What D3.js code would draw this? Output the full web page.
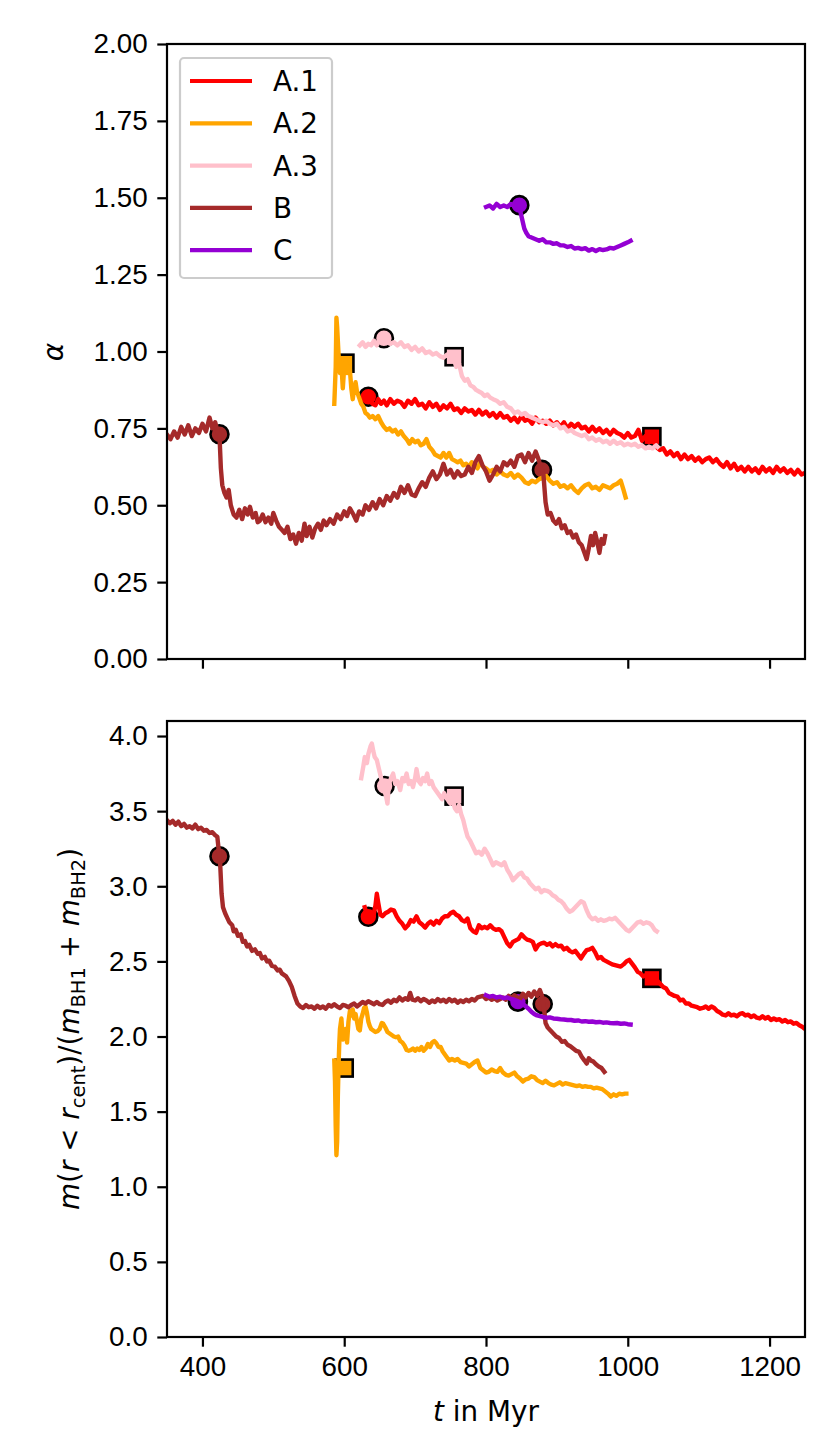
<!DOCTYPE html>
<html>
<head>
<meta charset="utf-8">
<script src="https://cdn.jsdelivr.net/npm/d3@7"></script>
<style>
  body { margin: 0; background: #fff; }
  svg { display: block; font-family: "DejaVu Sans", sans-serif; }
  .tick text { font-size: 27.8px; fill: #000; }
  .tick line { stroke: #000; stroke-width: 2.2; }
  .domain { display: none; }
</style>
</head>
<body>
<svg id="chart" width="830" height="1453"></svg>
<script>
// series names and colours
var names = ['A.1', 'A.2', 'A.3', 'B', 'C']
var colors = ['#ff0000', '#ffa500', '#ffc0cb', '#a52a2a', '#9400d3']

var xTicks = [400, 600, 800, 1000, 1200]
var alphaTicks = [0, 0.25, 0.5, 0.75, 1, 1.25, 1.5, 1.75, 2]
var massTicks = [0, 0.5, 1, 1.5, 2, 2.5, 3, 3.5, 4]

// top panel: alpha vs t [Myr]
var alphaA1 = [[632,0.855],[636,0.84],[640,0.83],[644,0.825],[648,0.845],[652,0.83],[656,0.84],[660,0.825],[665,0.845],[670,0.83],[675,0.84],[680,0.835],[685,0.82],[690,0.84],[695,0.83],[700,0.845],[705,0.825],[710,0.83],[715,0.815],[720,0.835],[725,0.82],[730,0.83],[735,0.81],[740,0.825],[745,0.815],[750,0.83],[755,0.81],[760,0.815],[765,0.8],[770,0.815],[775,0.805],[780,0.81],[785,0.795],[790,0.81],[795,0.795],[800,0.805],[805,0.79],[810,0.8],[815,0.785],[820,0.8],[825,0.785],[830,0.79],[835,0.775],[840,0.785],[845,0.77],[850,0.79],[855,0.775],[860,0.78],[865,0.765],[870,0.785],[875,0.77],[880,0.775],[885,0.765],[890,0.775],[895,0.76],[900,0.77],[905,0.755],[910,0.77],[915,0.75],[920,0.765],[925,0.755],[930,0.765],[935,0.75],[940,0.755],[945,0.74],[950,0.755],[955,0.74],[960,0.75],[965,0.735],[970,0.745],[975,0.73],[980,0.745],[985,0.735],[990,0.73],[995,0.72],[1000,0.735],[1005,0.72],[1010,0.725],[1015,0.745],[1020,0.71],[1025,0.725],[1030,0.705],[1035,0.72],[1040,0.69],[1045,0.68],[1050,0.685],[1055,0.665],[1060,0.675],[1065,0.66],[1070,0.67],[1075,0.65],[1080,0.665],[1085,0.65],[1090,0.66],[1095,0.645],[1100,0.655],[1105,0.64],[1110,0.65],[1115,0.655],[1120,0.64],[1125,0.65],[1130,0.635],[1135,0.625],[1140,0.64],[1145,0.62],[1150,0.635],[1155,0.615],[1160,0.625],[1165,0.61],[1170,0.625],[1175,0.61],[1180,0.62],[1185,0.605],[1190,0.625],[1195,0.61],[1200,0.62],[1205,0.605],[1210,0.625],[1215,0.61],[1220,0.62],[1225,0.605],[1230,0.615],[1235,0.6],[1240,0.615],[1245,0.6],[1250,0.605]]
var alphaA2 = [[586,0.83],[588,0.95],[589,1.11],[590,1.08],[592,0.99],[594,0.93],[596,0.96],[598,0.88],[600,0.95],[602,0.97],[604,0.93],[606,0.95],[608,0.94],[610,0.88],[612,0.845],[614,0.88],[616,0.9],[618,0.87],[621,0.85],[624,0.83],[627,0.82],[630,0.8],[633,0.795],[636,0.785],[640,0.79],[644,0.78],[648,0.79],[652,0.77],[656,0.755],[660,0.745],[664,0.75],[668,0.74],[672,0.745],[676,0.73],[680,0.74],[684,0.725],[688,0.715],[692,0.7],[696,0.715],[700,0.705],[704,0.71],[708,0.695],[712,0.7],[716,0.715],[720,0.69],[724,0.68],[728,0.665],[732,0.66],[736,0.655],[740,0.67],[744,0.655],[748,0.67],[752,0.65],[756,0.645],[760,0.64],[764,0.645],[768,0.63],[772,0.635],[776,0.625],[780,0.64],[784,0.63],[788,0.62],[792,0.64],[796,0.625],[800,0.62],[805,0.61],[810,0.615],[815,0.6],[820,0.61],[825,0.6],[830,0.595],[835,0.605],[840,0.59],[845,0.6],[850,0.59],[855,0.575],[860,0.57],[865,0.58],[870,0.575],[875,0.585],[880,0.59],[885,0.595],[890,0.58],[895,0.57],[900,0.575],[905,0.56],[910,0.565],[915,0.555],[920,0.565],[925,0.55],[930,0.54],[935,0.555],[940,0.565],[945,0.57],[950,0.555],[955,0.56],[960,0.55],[965,0.565],[970,0.56],[975,0.555],[980,0.565],[985,0.57],[990,0.58],[994,0.55],[997,0.525]]
var alphaA3 = [[622,1.02],[626,1.03],[630,1.015],[634,1.025],[638,1.02],[642,1.035],[646,1.02],[650,1.04],[655,1.04],[660,1.03],[665,1.025],[670,1.03],[675,1.02],[680,1.03],[685,1.015],[690,1.02],[695,1.005],[700,1.015],[705,1.0],[710,1.01],[715,0.995],[720,1.0],[725,0.99],[730,0.995],[735,0.985],[740,0.98],[745,0.99],[750,0.975],[754,0.98],[758,0.95],[762,0.96],[766,0.92],[770,0.905],[774,0.91],[778,0.89],[782,0.885],[786,0.875],[790,0.87],[794,0.865],[798,0.855],[802,0.86],[806,0.85],[810,0.845],[815,0.84],[820,0.83],[825,0.835],[830,0.82],[835,0.815],[840,0.8],[845,0.805],[850,0.795],[855,0.8],[860,0.79],[865,0.785],[870,0.78],[875,0.775],[880,0.77],[885,0.775],[890,0.765],[895,0.76],[900,0.765],[905,0.75],[910,0.755],[915,0.74],[920,0.745],[925,0.735],[930,0.73],[935,0.725],[940,0.73],[945,0.715],[950,0.72],[955,0.71],[960,0.715],[965,0.705],[970,0.71],[975,0.7],[980,0.71],[985,0.7],[990,0.705],[995,0.695],[1000,0.7],[1005,0.695],[1010,0.7],[1015,0.69],[1020,0.695],[1025,0.685],[1030,0.69],[1035,0.685],[1040,0.695],[1042,0.69]]
var alphaB = [[350,0.73],[355,0.715],[360,0.74],[365,0.72],[370,0.755],[375,0.73],[380,0.76],[385,0.725],[390,0.75],[395,0.735],[400,0.765],[405,0.74],[410,0.785],[414,0.75],[418,0.77],[422,0.735],[424,0.73],[426,0.62],[428,0.565],[431,0.54],[434,0.525],[437,0.55],[440,0.5],[444,0.47],[448,0.46],[452,0.485],[456,0.455],[460,0.49],[464,0.47],[467,0.495],[471,0.46],[475,0.475],[478,0.445],[481,0.45],[485,0.47],[489,0.445],[493,0.46],[497,0.44],[500,0.475],[504,0.45],[508,0.43],[512,0.42],[516,0.41],[520,0.43],[524,0.39],[528,0.405],[532,0.375],[536,0.41],[540,0.385],[544,0.44],[547,0.4],[551,0.43],[555,0.395],[559,0.425],[563,0.44],[567,0.42],[571,0.45],[575,0.435],[580,0.455],[585,0.44],[590,0.47],[595,0.455],[600,0.48],[604,0.465],[608,0.49],[613,0.47],[617,0.45],[621,0.48],[626,0.47],[630,0.5],[635,0.485],[640,0.51],[645,0.49],[650,0.52],[655,0.5],[660,0.53],[665,0.515],[670,0.54],[675,0.525],[680,0.56],[685,0.54],[690,0.565],[695,0.535],[700,0.53],[705,0.555],[710,0.575],[715,0.56],[720,0.59],[725,0.61],[730,0.585],[735,0.6],[740,0.635],[745,0.6],[750,0.615],[755,0.59],[760,0.61],[765,0.595],[770,0.6],[775,0.625],[780,0.605],[785,0.64],[790,0.66],[795,0.63],[800,0.61],[805,0.58],[810,0.6],[815,0.625],[820,0.61],[825,0.64],[830,0.63],[835,0.645],[840,0.625],[845,0.66],[850,0.665],[855,0.64],[860,0.67],[865,0.645],[870,0.675],[874,0.65],[878,0.62],[881,0.6],[884,0.51],[887,0.47],[891,0.475],[895,0.45],[899,0.44],[903,0.455],[907,0.425],[911,0.435],[915,0.41],[919,0.415],[923,0.395],[927,0.405],[931,0.38],[935,0.37],[939,0.345],[942,0.325],[945,0.36],[948,0.4],[951,0.37],[954,0.41],[957,0.38],[960,0.345],[963,0.39],[966,0.375],[968,0.4]]
var alphaC = [[800,1.47],[805,1.475],[810,1.465],[815,1.48],[820,1.47],[825,1.475],[830,1.47],[835,1.48],[840,1.475],[845,1.475],[848,1.46],[851,1.43],[854,1.4],[857,1.385],[860,1.375],[865,1.37],[870,1.365],[875,1.36],[880,1.365],[885,1.355],[890,1.355],[895,1.35],[900,1.352],[905,1.345],[910,1.345],[915,1.34],[920,1.343],[925,1.335],[930,1.337],[935,1.333],[940,1.336],[945,1.328],[950,1.333],[955,1.327],[960,1.333],[965,1.33],[970,1.332],[975,1.337],[980,1.335],[985,1.34],[990,1.345],[995,1.35],[1000,1.355],[1004,1.36]]

// bottom panel: m(r<r_cent)/(m_BH1+m_BH2) vs t [Myr]
var massA1 = [[629,2.86],[632,2.81],[635,2.8],[638,2.82],[641,2.8],[644,2.87],[646,2.95],[648,2.89],[651,2.81],[654,2.8],[658,2.82],[662,2.83],[666,2.845],[670,2.84],[674,2.8],[678,2.77],[682,2.75],[686,2.72],[690,2.74],[694,2.775],[698,2.765],[702,2.8],[706,2.76],[710,2.745],[714,2.725],[718,2.75],[722,2.765],[726,2.745],[730,2.77],[734,2.755],[738,2.785],[742,2.8],[746,2.8],[750,2.82],[754,2.83],[758,2.81],[762,2.8],[766,2.775],[770,2.765],[774,2.785],[778,2.72],[782,2.7],[786,2.69],[790,2.74],[794,2.72],[798,2.73],[802,2.72],[806,2.74],[810,2.72],[814,2.71],[818,2.715],[822,2.7],[826,2.66],[830,2.62],[834,2.6],[838,2.63],[842,2.64],[846,2.65],[850,2.68],[854,2.66],[858,2.645],[862,2.64],[866,2.63],[870,2.58],[874,2.61],[878,2.62],[882,2.625],[886,2.61],[890,2.62],[894,2.6],[898,2.615],[902,2.6],[906,2.605],[910,2.58],[914,2.59],[918,2.57],[922,2.56],[926,2.57],[930,2.545],[934,2.52],[938,2.55],[942,2.575],[946,2.58],[950,2.59],[954,2.56],[958,2.52],[962,2.53],[966,2.51],[970,2.5],[974,2.49],[978,2.48],[982,2.475],[986,2.47],[990,2.465],[994,2.48],[998,2.5],[1002,2.51],[1006,2.485],[1010,2.46],[1014,2.43],[1018,2.42],[1022,2.4],[1026,2.41],[1030,2.385],[1034,2.39],[1038,2.38],[1042,2.37],[1046,2.35],[1050,2.33],[1054,2.32],[1058,2.29],[1062,2.28],[1066,2.27],[1070,2.265],[1074,2.24],[1078,2.245],[1082,2.22],[1086,2.22],[1090,2.205],[1094,2.2],[1098,2.195],[1102,2.185],[1106,2.19],[1110,2.2],[1114,2.185],[1118,2.2],[1122,2.19],[1126,2.17],[1130,2.16],[1134,2.145],[1138,2.14],[1142,2.155],[1146,2.14],[1150,2.145],[1154,2.135],[1158,2.15],[1162,2.155],[1166,2.14],[1170,2.145],[1174,2.13],[1178,2.14],[1182,2.125],[1186,2.12],[1190,2.135],[1194,2.12],[1198,2.13],[1202,2.11],[1206,2.12],[1210,2.11],[1214,2.115],[1218,2.1],[1222,2.11],[1226,2.095],[1230,2.1],[1234,2.085],[1238,2.09],[1242,2.075],[1246,2.065],[1250,2.05]]
var massA2 = [[586,1.84],[587,1.7],[588,1.4],[589,1.21],[590,1.3],[591,1.6],[592,1.8],[593,1.95],[594,2.05],[596,2.12],[598,1.98],[600,2.0],[602,2.05],[604,1.96],[606,2.1],[608,2.17],[610,2.14],[612,2.18],[614,2.12],[616,2.15],[618,2.1],[620,2.05],[622,2.04],[624,2.12],[626,2.15],[628,2.19],[630,2.2],[632,2.16],[634,2.1],[636,2.07],[638,2.05],[641,2.04],[644,2.03],[647,2.035],[650,2.05],[653,2.09],[655,2.085],[658,2.06],[661,2.03],[664,2.02],[667,2.01],[670,2.0],[673,1.995],[676,2.0],[679,1.97],[682,1.96],[685,1.94],[688,1.91],[691,1.905],[694,1.91],[697,1.92],[700,1.905],[703,1.92],[706,1.91],[709,1.93],[712,1.905],[715,1.92],[718,1.95],[721,1.93],[724,1.96],[727,1.97],[730,1.955],[733,1.93],[736,1.93],[739,1.9],[742,1.88],[745,1.86],[748,1.84],[752,1.85],[756,1.84],[760,1.85],[764,1.83],[768,1.825],[772,1.82],[776,1.8],[780,1.815],[784,1.83],[788,1.84],[792,1.79],[796,1.775],[800,1.76],[804,1.765],[808,1.78],[812,1.77],[816,1.765],[820,1.79],[824,1.76],[828,1.745],[832,1.74],[836,1.75],[840,1.76],[844,1.735],[848,1.72],[852,1.7],[856,1.715],[860,1.72],[864,1.735],[868,1.73],[872,1.71],[876,1.7],[880,1.69],[884,1.705],[888,1.69],[892,1.68],[896,1.675],[900,1.685],[904,1.695],[908,1.68],[912,1.69],[916,1.685],[920,1.68],[924,1.675],[928,1.67],[932,1.675],[936,1.665],[940,1.67],[944,1.665],[948,1.665],[952,1.655],[956,1.66],[960,1.655],[964,1.65],[968,1.635],[972,1.62],[976,1.6],[980,1.615],[984,1.605],[988,1.62],[992,1.615],[996,1.62],[998,1.62]]
var massA3 = [[624,3.72],[627,3.8],[629,3.86],[632,3.82],[634,3.88],[637,3.93],[639,3.95],[641,3.9],[643,3.86],[646,3.84],[649,3.78],[652,3.72],[655,3.66],[657,3.63],[659,3.6],[661,3.55],[663,3.68],[666,3.72],[669,3.75],[672,3.68],[675,3.7],[679,3.64],[682,3.72],[685,3.7],[688,3.75],[691,3.68],[694,3.7],[697,3.66],[700,3.72],[702,3.78],[705,3.7],[708,3.68],[711,3.72],[714,3.7],[717,3.75],[720,3.68],[723,3.7],[726,3.66],[729,3.64],[732,3.62],[735,3.6],[738,3.58],[741,3.62],[744,3.59],[747,3.57],[750,3.55],[753,3.58],[756,3.52],[759,3.5],[762,3.54],[765,3.48],[768,3.44],[771,3.38],[774,3.33],[778,3.3],[782,3.26],[786,3.22],[790,3.23],[794,3.21],[798,3.25],[802,3.22],[806,3.18],[810,3.14],[814,3.16],[818,3.15],[822,3.14],[826,3.16],[830,3.11],[834,3.08],[838,3.04],[842,3.06],[846,3.08],[850,3.09],[854,3.06],[858,3.05],[862,3.02],[866,3.0],[870,2.98],[874,2.99],[878,2.96],[882,2.975],[886,2.97],[890,2.96],[894,2.94],[898,2.93],[902,2.91],[906,2.9],[910,2.88],[914,2.85],[918,2.83],[922,2.84],[926,2.86],[930,2.88],[934,2.9],[938,2.89],[942,2.84],[946,2.8],[950,2.78],[954,2.79],[958,2.77],[962,2.78],[966,2.77],[970,2.775],[974,2.785],[978,2.78],[982,2.79],[986,2.77],[990,2.75],[994,2.73],[998,2.71],[1002,2.7],[1006,2.72],[1010,2.74],[1014,2.76],[1018,2.765],[1022,2.75],[1026,2.76],[1030,2.755],[1034,2.74],[1038,2.71],[1041,2.7]]
var massB = [[350,3.44],[354,3.42],[358,3.435],[362,3.41],[366,3.43],[370,3.4],[374,3.415],[378,3.39],[382,3.4],[386,3.385],[390,3.41],[394,3.38],[398,3.39],[402,3.37],[406,3.375],[410,3.355],[414,3.36],[418,3.34],[421,3.33],[423,3.24],[425,3.15],[427,2.95],[429,2.86],[432,2.82],[435,2.79],[438,2.76],[442,2.74],[444,2.7],[447,2.71],[450,2.67],[454,2.68],[457,2.63],[460,2.635],[463,2.6],[466,2.61],[470,2.57],[474,2.58],[478,2.55],[481,2.555],[484,2.52],[488,2.53],[491,2.5],[494,2.505],[498,2.47],[502,2.465],[506,2.44],[509,2.445],[512,2.42],[515,2.41],[518,2.4],[522,2.37],[526,2.33],[530,2.27],[534,2.22],[538,2.2],[542,2.19],[546,2.21],[550,2.195],[554,2.2],[558,2.185],[562,2.205],[566,2.19],[570,2.2],[574,2.185],[578,2.21],[582,2.2],[586,2.215],[590,2.2],[594,2.19],[598,2.21],[602,2.205],[606,2.195],[610,2.21],[614,2.22],[618,2.2],[622,2.215],[626,2.23],[630,2.22],[634,2.235],[638,2.225],[642,2.215],[646,2.23],[650,2.215],[654,2.21],[658,2.23],[662,2.24],[666,2.225],[670,2.245],[674,2.235],[678,2.26],[682,2.24],[686,2.255],[690,2.245],[693,2.29],[696,2.245],[700,2.24],[704,2.255],[708,2.235],[712,2.25],[716,2.24],[720,2.225],[724,2.24],[728,2.23],[732,2.25],[736,2.235],[740,2.245],[744,2.23],[748,2.25],[752,2.235],[756,2.245],[760,2.225],[764,2.24],[768,2.23],[772,2.245],[776,2.235],[780,2.25],[784,2.24],[788,2.26],[792,2.265],[796,2.27],[800,2.25],[804,2.26],[808,2.245],[812,2.255],[816,2.24],[820,2.25],[824,2.26],[828,2.245],[832,2.27],[836,2.255],[840,2.275],[844,2.26],[848,2.25],[852,2.285],[856,2.26],[860,2.29],[864,2.265],[868,2.3],[872,2.27],[876,2.31],[879,2.27],[882,2.18],[884,2.09],[887,2.06],[891,2.04],[895,2.02],[899,2.0],[903,1.99],[907,1.965],[911,1.97],[915,1.945],[919,1.935],[923,1.92],[927,1.905],[931,1.9],[935,1.865],[939,1.84],[942,1.82],[945,1.855],[948,1.84],[951,1.835],[955,1.815],[959,1.8],[963,1.79],[967,1.765]]
var massC = [[800,2.275],[805,2.265],[810,2.27],[815,2.26],[820,2.265],[825,2.255],[830,2.26],[835,2.25],[840,2.245],[845,2.235],[850,2.225],[855,2.205],[860,2.185],[864,2.165],[868,2.15],[872,2.14],[876,2.135],[880,2.13],[885,2.125],[890,2.127],[895,2.12],[900,2.118],[905,2.115],[910,2.113],[915,2.11],[920,2.11],[925,2.105],[930,2.107],[935,2.1],[940,2.102],[945,2.098],[950,2.1],[955,2.095],[960,2.097],[965,2.092],[970,2.094],[975,2.09],[980,2.088],[985,2.09],[990,2.085],[995,2.087],[1000,2.082],[1004,2.08]]

// event markers: [series index, t, value]
var alphaCircles = [[3,424,0.731],[0,634,0.853],[2,656,1.043],[4,847,1.476],[3,879,0.615]]
var alphaSquares = [[1,601,0.962],[2,755,0.983],[0,1034,0.723]]
var massCircles = [[3,424,3.2],[0,634,2.797],[2,657,3.667],[4,845,2.232],[3,880,2.216]]
var massSquares = [[1,600,1.79],[2,755,3.6],[0,1034,2.387]]

var svg = d3.select('#chart')
var fs = 27.8
var left = 167, right = 805

var x = d3.scaleLinear().domain([350, 1250]).range([left, right])

var panels = [
  { top: 44, bottom: 659, domain: [0, 2], ticks: alphaTicks, fmt: d3.format('.2f'),
    series: [alphaA1, alphaA2, alphaA3, alphaB, alphaC], circles: alphaCircles, squares: alphaSquares, xLabels: false },
  { top: 721, bottom: 1337, domain: [0, 4.1], ticks: massTicks, fmt: d3.format('.1f'),
    series: [massA1, massA2, massA3, massB, massC], circles: massCircles, squares: massSquares, xLabels: true }
]

panels.forEach(function(p, pi) {
  var y = d3.scaleLinear().domain(p.domain).range([p.bottom, p.top])
  var g = svg.append('g')

  svg.append('clipPath').attr('id', 'clip' + pi)
    .append('rect').attr('x', left).attr('y', p.top)
    .attr('width', right - left).attr('height', p.bottom - p.top)

  // markers drawn below the curves
  var mk = g.append('g').attr('clip-path', 'url(#clip' + pi + ')')
  mk.selectAll('circle').data(p.circles).enter().append('circle')
    .attr('cx', function(d) { return x(d[1]) })
    .attr('cy', function(d) { return y(d[2]) })
    .attr('r', 9)
    .attr('fill', function(d) { return colors[d[0]] })
    .attr('stroke', '#000').attr('stroke-width', 2.6)
  mk.selectAll('rect').data(p.squares).enter().append('rect')
    .attr('x', function(d) { return x(d[1]) - 8.5 })
    .attr('y', function(d) { return y(d[2]) - 8.5 })
    .attr('width', 17).attr('height', 17)
    .attr('fill', function(d) { return colors[d[0]] })
    .attr('stroke', '#000').attr('stroke-width', 2.6)

  var line = d3.line()
    .x(function(d) { return x(d[0]) })
    .y(function(d) { return y(d[1]) })

  g.append('g').attr('clip-path', 'url(#clip' + pi + ')')
    .selectAll('path').data(p.series).enter().append('path')
    .attr('d', line)
    .attr('fill', 'none')
    .attr('stroke', function(d, i) { return colors[i] })
    .attr('stroke-width', 4.4)
    .attr('stroke-linejoin', 'round')
    .attr('stroke-linecap', 'square')

  // axes
  g.append('g').attr('transform', 'translate(' + left + ',0)')
    .call(d3.axisLeft(y).tickValues(p.ticks).tickFormat(p.fmt).tickSize(9.7).tickPadding(9.7).tickSizeOuter(0))
  var xa = d3.axisBottom(x).tickValues(xTicks).tickSize(9.7).tickPadding(9.7).tickSizeOuter(0)
  xa.tickFormat(p.xLabels ? d3.format('d') : '')
  g.append('g').attr('transform', 'translate(0,' + p.bottom + ')').call(xa)

  g.selectAll('.tick text').style('font-size', fs + 'px')

  g.append('rect')
    .attr('x', left).attr('y', p.top)
    .attr('width', right - left).attr('height', p.bottom - p.top)
    .attr('fill', 'none').attr('stroke', '#000').attr('stroke-width', 2.2)
})

// y labels
svg.append('text')
  .attr('transform', 'translate(63,352) rotate(-90)')
  .attr('text-anchor', 'middle')
  .style('font-size', fs + 'px').style('font-style', 'italic')
  .text('α')

var yl = svg.append('text')
  .attr('transform', 'translate(79,1029) rotate(-90)')
  .attr('text-anchor', 'middle')
  .style('font-size', fs + 'px')
var parts = [
  ['m', 'i'], ['(', 'n'], ['r', 'i'], [' < ', 'n'], ['r', 'i'], ['cent', 's'], [')/(', 'n'],
  ['m', 'i'], ['BH1', 's'], [' + ', 'n'], ['m', 'i'], ['BH2', 's'], [')', 'n']
]
var shifted = false
parts.forEach(function(pt) {
  var ts = yl.append('tspan').text(pt[0])
  if (pt[1] === 'i') ts.style('font-style', 'italic')
  if (pt[1] === 's') {
    ts.style('font-size', (fs * 0.7) + 'px')
    if (!shifted) { ts.attr('dy', 6); shifted = true }
  } else if (shifted) {
    ts.attr('dy', -6); shifted = false
  }
})

// x label
var xl = svg.append('text')
  .attr('x', (left + right) / 2).attr('y', 1421)
  .attr('text-anchor', 'middle')
  .style('font-size', fs + 'px')
xl.append('tspan').style('font-style', 'italic').text('t')
xl.append('tspan').text(' in Myr')

// legend
var lg = svg.append('g')
lg.append('rect')
  .attr('x', 180).attr('y', 58).attr('width', 152).attr('height', 220)
  .attr('rx', 4).attr('fill', '#fff').attr('fill-opacity', 0.8)
  .attr('stroke', '#cccccc').attr('stroke-width', 2.2)
var row = lg.selectAll('g.row').data(names).enter().append('g')
  .attr('class', 'row')
  .attr('transform', function(d, i) { return 'translate(0,' + (81 + i * 42.3) + ')' })
row.append('line')
  .attr('x1', 190).attr('x2', 252)
  .attr('stroke', function(d, i) { return colors[i] })
  .attr('stroke-width', 4.2)
row.append('text')
  .attr('x', 273).attr('dy', '0.36em')
  .style('font-size', fs + 'px')
  .text(function(d) { return d })
</script>
</body>
</html>
